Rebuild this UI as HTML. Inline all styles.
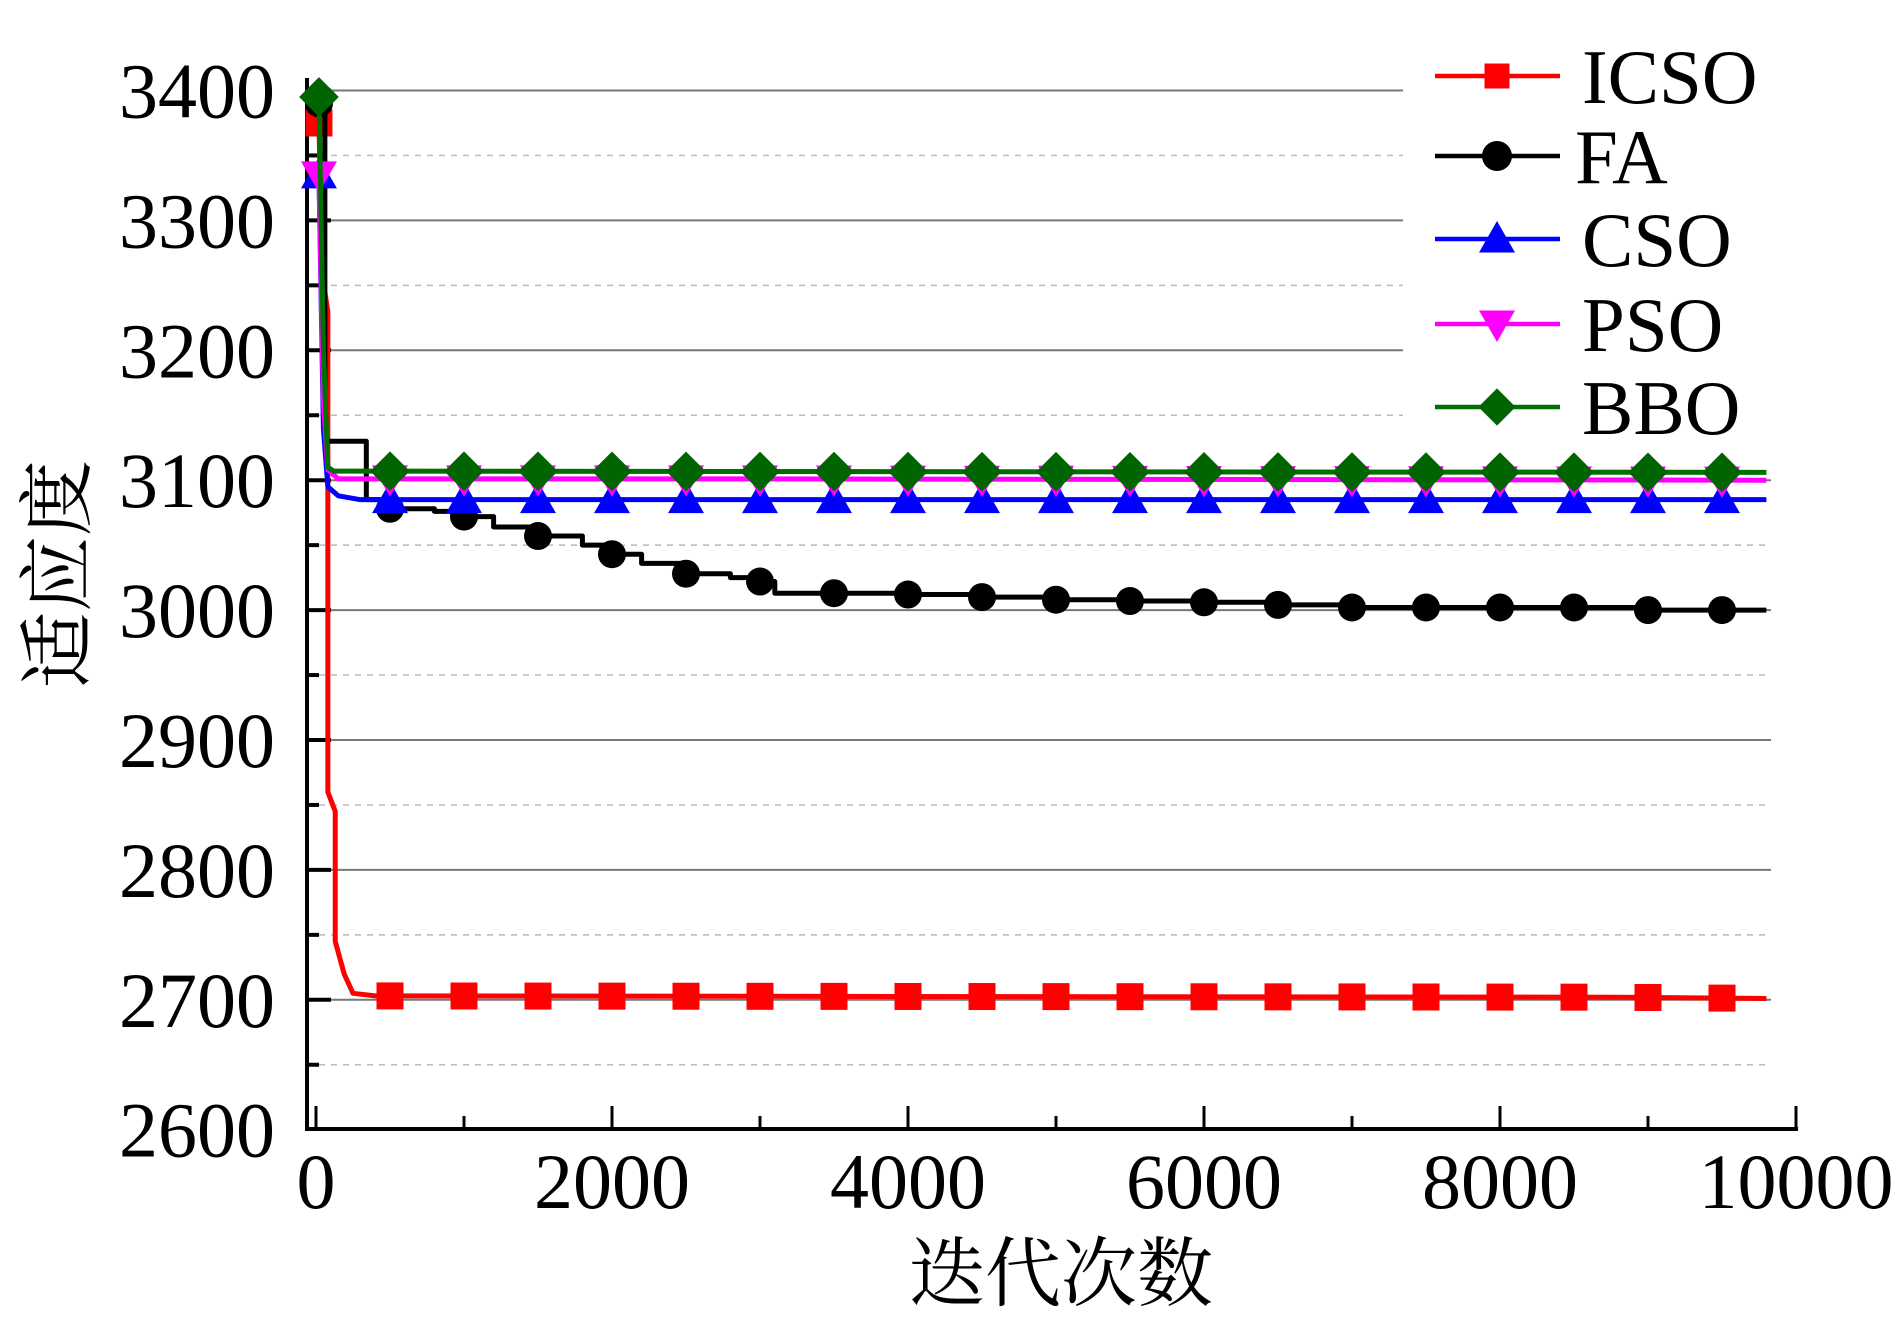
<!DOCTYPE html>
<html><head><meta charset="utf-8"><style>
html,body{margin:0;padding:0;background:#fff}
svg{display:block}
text{font-family:"Liberation Serif","Noto Serif CJK SC","Noto Sans CJK SC",serif;fill:#000}
</style></head><body>
<svg id="chart" width="1894" height="1329" viewBox="0 0 1894 1329" xmlns="http://www.w3.org/2000/svg">
<g id="grid"></g>
<g id="axes"></g>
<g id="series"></g>
<g id="legend"></g>
<text x="1061" y="1300" font-size="76" text-anchor="middle">迭代次数</text>
<text transform="translate(84,574) rotate(-90)" font-size="76" text-anchor="middle">适应度</text>
</svg>
<script>
const yTicks = [2600,2700,2800,2900,3000,3100,3200,3300,3400];
const xTicks = [0,2000,4000,6000,8000,10000];
const seriesNames = ["ICSO","FA","CSO","PSO","BBO"];
const icsoX = [20,40,80,80,130,130,190,250,400,8800,9800];
const icsoY = [3375,3260,3230,2860,2845,2745,2720,2705,2703,2702,2701];
const faX = [20,60,340,500,800,1000,1200,1500,1800,2000,2200,2500,2800,3000,3100,3500,4000,4500,5000,5500,6000,6500,7000,8000,9000,9800];
const faY = [3390,3130,3085,3078,3076,3072,3064,3057,3050,3043,3036,3028,3025,3022,3013,3013,3012,3010,3008,3007,3006,3004,3002,3002,3000,3000];
const csoX = [20,50,80,150,300,9800];
const csoY = [3335,3140,3095,3088,3085,3085];
const psoX = [20,50,80,150,3000,9800];
const psoY = [3335,3160,3108,3101,3101,3100];
const bboX = [20,50,80,120,9800];
const bboY = [3395,3200,3110,3107,3106];
const markerIters = [20,500,1000,1500,2000,2500,3000,3500,4000,4500,5000,5500,6000,6500,7000,7500,8000,8500,9000,9500];

const NS="http://www.w3.org/2000/svg";
const X = v => 316 + (v/10000)*1480;
const Y = v => 90.5 + (3400-v)/100*129.9;
function mk(tag, attrs, parent){const e=document.createElementNS(NS,tag);for(const k in attrs)e.setAttribute(k,attrs[k]);parent.appendChild(e);return e;}
const grid=document.getElementById('grid'), axes=document.getElementById('axes'), ser=document.getElementById('series'), leg=document.getElementById('legend');

for(let v=2650; v<=3400; v+=50){
  const major = v%100===0;
  const xe = (v>=3150) ? 1403 : 1771;
  const l=mk('line',{x1:307,x2:xe,y1:Y(v),y2:Y(v),stroke:major?'#777':'#bbb','stroke-width':major?2:1.5,'stroke-dasharray':major?'none':'6,6'},grid);
  
  
}
let a=mk('line',{x1:307,x2:307,y1:78,y2:1131,stroke:'#000','stroke-width':4},axes);


a=mk('line',{x1:305,x2:1798,y1:1129,y2:1129,stroke:'#000','stroke-width':4},axes);


for(let v=2650; v<=3400; v+=50){
  const major=v%100===0;
  const t=mk('line',{x1:307,x2:major?331:319,y1:Y(v),y2:Y(v),stroke:'#000','stroke-width':4},axes);
  
  
}
yTicks.forEach(v=>{
  const t=mk('text',{x:275,y:Y(v)+27,'font-size':78,'text-anchor':'end'},axes);
  t.textContent=v;
  
  
});
for(let v=0; v<=10000; v+=1000){
  const major=v%2000===0;
  const t=mk('line',{x1:X(v),x2:X(v),y1:1129,y2:major?1106:1116,stroke:'#000','stroke-width':3},axes);
  
  
}
xTicks.forEach(v=>{
  const t=mk('text',{x:X(v),y:1208,'font-size':78,'text-anchor':'middle'},axes);
  t.textContent=v;
  
  
});

function interp(xs,ys,x,step){
  if(x<=xs[0])return ys[0];
  for(let i=xs.length-1;i>=0;i--){ if(xs[i]<=x){ if(i===xs.length-1||step)return ys[i]; if(xs[i+1]===xs[i])return ys[i+1]; return ys[i]+(ys[i+1]-ys[i])*(x-xs[i])/(xs[i+1]-xs[i]); } }
  return ys[ys.length-1];
}
function marker(kind,cx,cy,s,color,parent){
  let e;
  if(kind==='square') e=mk('rect',{x:cx-s/2,y:cy-s/2,width:s,height:s,fill:color},parent);
  else if(kind==='circle') e=mk('circle',{cx:cx,cy:cy,r:s/2,fill:color},parent);
  else if(kind==='up') e=mk('polygon',{points:`${cx},${cy-s*0.6} ${cx-s*0.6},${cy+s*0.45} ${cx+s*0.6},${cy+s*0.45}`,fill:color},parent);
  else if(kind==='down') e=mk('polygon',{points:`${cx},${cy+s*0.6} ${cx-s*0.6},${cy-s*0.45} ${cx+s*0.6},${cy-s*0.45}`,fill:color},parent);
  else e=mk('polygon',{points:`${cx},${cy-s*0.62} ${cx+s*0.62},${cy} ${cx},${cy+s*0.62} ${cx-s*0.62},${cy}`,fill:color},parent);
  return e;
}
const defs=[
  {xs:icsoX,ys:icsoY,color:'#ff0000',mcolor:'#ff0000',kind:'square',s:27,name:'icso',step:false},
  {xs:faX,ys:faY,color:'#000',mcolor:'#000',kind:'circle',s:28,name:'fa',step:true},
  {xs:csoX,ys:csoY,color:'#0000ff',mcolor:'#0000ff',kind:'up',s:30,name:'cso',step:false},
  {xs:psoX,ys:psoY,color:'#ff00ff',mcolor:'#ff00ff',kind:'down',s:30,name:'pso',step:false},
  {xs:bboX,ys:bboY,color:'#007000',mcolor:'#006400',kind:'diamond',s:32,name:'bbo',step:false}
];
defs.forEach(d=>{
  const g=mk('g',{},ser);
  
  
  const p=[];
  d.xs.forEach((x,i)=>{
    if(d.step && i>0) p.push(X(x)+','+Y(d.ys[i-1]));
    p.push(X(x)+','+Y(d.ys[i]));
  });
  const pl=mk('polyline',{points:p.join(' '),fill:'none',stroke:d.color,'stroke-width':5,'stroke-linejoin':'round'},g);
  
  
  markerIters.forEach(it=>{
    const m=marker(d.kind,X(it),Y(interp(d.xs,d.ys,it,d.step)),d.s,d.mcolor,g);
    
    
  });
});
const legY=[76,156,239,324,407];
defs.forEach((d,i)=>{
  const g=mk('g',{},leg);
  
  
  const l=mk('line',{x1:1435,x2:1560,y1:legY[i],y2:legY[i],stroke:d.color,'stroke-width':4.5},g);
  
  
  const m=marker(d.kind,1497,legY[i],d.kind==='square'?25:30,d.mcolor,g);
  
  
  const t=mk('text',{x:i===1?1575:1582,y:legY[i]+27,'font-size':77},g);
  t.textContent=seriesNames[i];
  
  
});
</script>
</body></html>
